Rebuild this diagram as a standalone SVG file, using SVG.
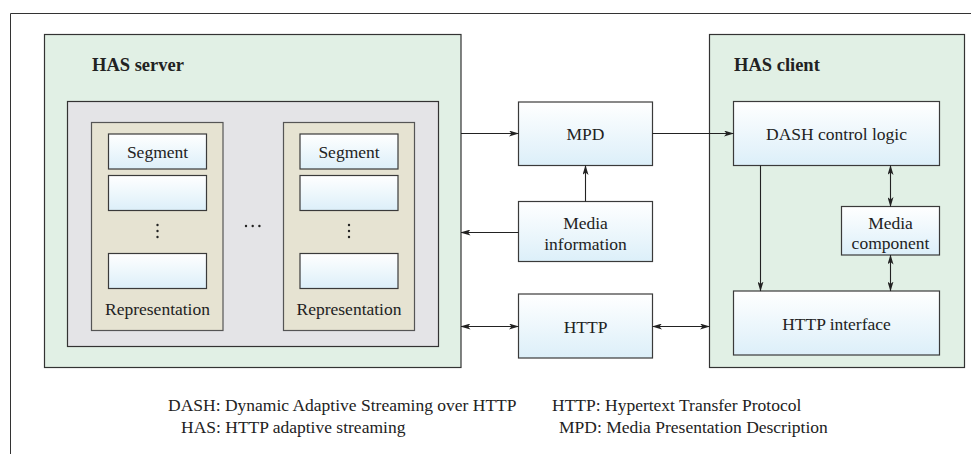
<svg xmlns="http://www.w3.org/2000/svg" width="971" height="454" viewBox="0 0 971 454" font-family="'Liberation Serif', 'DejaVu Serif', 'Times New Roman', serif">
  <defs>
    <linearGradient id="boxFill" x1="0" y1="0" x2="0" y2="1">
      <stop offset="0" stop-color="#ffffff"/>
      <stop offset="1" stop-color="#dceff9"/>
    </linearGradient>
    <marker id="arrow" viewBox="0 0 10 6" refX="9.5" refY="3" markerWidth="10" markerHeight="6" markerUnits="userSpaceOnUse" orient="auto-start-reverse">
      <path d="M0,0 L10,3 L0,6 L2.5,3 Z" fill="#222"/>
    </marker>
    <style>
      .frame { fill: none; stroke: #333; stroke-width: 1; }
      .zone { fill: #e1f0e5; stroke: #333; stroke-width: 1.2; }
      .store { fill: #e4e4e7; stroke: #333; stroke-width: 1.2; }
      .rep { fill: #e6e3d2; stroke: #555; stroke-width: 1.2; }
      .box { fill: url(#boxFill); stroke: #3a3a3a; stroke-width: 1.2; }
      text { font-family: 'Liberation Serif', 'DejaVu Serif', 'Times New Roman', serif; }
      .title { font-size: 18.5px; font-weight: bold; fill: #222; }
      .label { font-size: 17.5px; fill: #222; text-anchor: middle; }
      .legend { font-size: 17.5px; fill: #222; }
      .dot { fill: #222; }
      .link { fill: none; stroke: #222; stroke-width: 1.1; }
      .one { marker-end: url(#arrow); }
      .two { marker-start: url(#arrow); marker-end: url(#arrow); }
    </style>
  </defs>
  <rect width="971" height="454" fill="#ffffff"/>

  <!-- page frame -->
  <path class="frame" d="M10.5,454 V13.5 H971"/>

  <!-- server side -->
  <g id="has-server">
    <rect class="zone" x="44.5" y="34.5" width="416.5" height="333"/>
    <text class="title" x="92" y="71">HAS server</text>
  </g>
  <g id="content-store">
    <rect class="store" x="67.5" y="101.5" width="371" height="245"/>
    <circle class="dot" cx="246" cy="226" r="1.2"/>
    <circle class="dot" cx="252.7" cy="226" r="1.2"/>
    <circle class="dot" cx="259.4" cy="226" r="1.2"/>
  </g>
  <g id="representation-1">
    <rect class="rep" x="91.5" y="122.5" width="131.5" height="208"/>
    <rect class="box" x="108.5" y="134" width="98" height="35"/>
    <text class="label" x="157.5" y="158">Segment</text>
    <rect class="box" x="108.5" y="175.5" width="98" height="35"/>
    <circle class="dot" cx="157.5" cy="225" r="1.2"/>
    <circle class="dot" cx="157.5" cy="231" r="1.2"/>
    <circle class="dot" cx="157.5" cy="237" r="1.2"/>
    <rect class="box" x="108.5" y="253.5" width="98" height="35"/>
    <text class="label" x="157.5" y="315">Representation</text>
  </g>
  <g id="representation-2">
    <rect class="rep" x="283.5" y="122.5" width="131" height="208"/>
    <rect class="box" x="300" y="134" width="98" height="35"/>
    <text class="label" x="349" y="158">Segment</text>
    <rect class="box" x="300" y="175.5" width="98" height="35"/>
    <circle class="dot" cx="349" cy="225" r="1.2"/>
    <circle class="dot" cx="349" cy="231" r="1.2"/>
    <circle class="dot" cx="349" cy="237" r="1.2"/>
    <rect class="box" x="300" y="253.5" width="98" height="35"/>
    <text class="label" x="349" y="315">Representation</text>
  </g>

  <!-- middle column -->
  <g id="mpd">
    <rect class="box" x="518.5" y="102" width="134" height="63.5"/>
    <text class="label" x="585.5" y="140">MPD</text>
  </g>
  <g id="media-information">
    <rect class="box" x="518.5" y="201.5" width="134" height="60"/>
    <text class="label" x="585.5" y="229">Media</text>
    <text class="label" x="585.5" y="250">information</text>
  </g>
  <g id="http">
    <rect class="box" x="518.5" y="294" width="134" height="64"/>
    <text class="label" x="585.5" y="333">HTTP</text>
  </g>

  <!-- client side -->
  <g id="has-client">
    <rect class="zone" x="709.5" y="34.5" width="255" height="333"/>
    <text class="title" x="734" y="71">HAS client</text>
  </g>
  <g id="dash-control-logic">
    <rect class="box" x="733.5" y="101.5" width="206" height="64"/>
    <text class="label" x="836.5" y="140">DASH control logic</text>
  </g>
  <g id="media-component">
    <rect class="box" x="841.5" y="206.5" width="98" height="48.5"/>
    <text class="label" x="890.5" y="229">Media</text>
    <text class="label" x="890.5" y="249">component</text>
  </g>
  <g id="http-interface">
    <rect class="box" x="733.5" y="291" width="206" height="64"/>
    <text class="label" x="836.5" y="330">HTTP interface</text>
  </g>

  <!-- connectors -->
  <g id="connectors">
    <path class="link one" d="M461,133.5 H518.5"/>
    <path class="link one" d="M652.5,133.5 H733.5"/>
    <path class="link one" d="M585.5,201.5 V165.5"/>
    <path class="link one" d="M518.5,232.5 H461"/>
    <path class="link two" d="M461,326.5 H518.5"/>
    <path class="link two" d="M652.5,326.5 H709.5"/>
    <path class="link one" d="M760.5,165.5 V291"/>
    <path class="link two" d="M890.5,165.5 V206.5"/>
    <path class="link two" d="M890.5,255 V291"/>
  </g>

  <!-- abbreviations -->
  <g id="legend">
    <text class="legend" x="168" y="411">DASH: Dynamic Adaptive Streaming over HTTP</text>
    <text class="legend" x="181" y="433">HAS: HTTP adaptive streaming</text>
    <text class="legend" x="552" y="411">HTTP: Hypertext Transfer Protocol</text>
    <text class="legend" x="559" y="433">MPD: Media Presentation Description</text>
  </g>
</svg>
